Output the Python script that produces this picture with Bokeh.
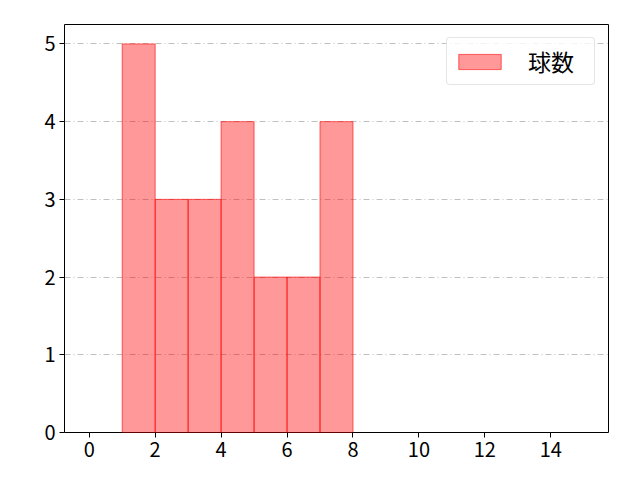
from bokeh.plotting import figure
from bokeh.models import Range1d, FixedTicker, Legend, LegendItem
from bokeh.embed import file_html
from bokeh.resources import INLINE

# histogram bins and counts
bin_left = [1, 2, 3, 4, 5, 6, 7]
bin_right = [2, 3, 4, 5, 6, 7, 8]
counts = [5, 3, 3, 4, 2, 2, 4]
x_ticks = [0, 2, 4, 6, 8, 10, 12, 14]
y_ticks = [0, 1, 2, 3, 4, 5]
label = "球数"

FONT = "Noto Sans CJK JP"

p = figure(width=632, height=472, output_backend="svg", toolbar_location=None,
           x_range=Range1d(-0.75, 15.75), y_range=Range1d(0, 5.25),
           min_border_left=64, min_border_top=24, min_border_right=24, min_border_bottom=40)

r = p.quad(left=bin_left, right=bin_right, top=counts, bottom=0,
           fill_color="#ff0000", fill_alpha=0.4, line_color="#ff0000", line_alpha=0.6, line_width=1)

p.xgrid.grid_line_color = None
p.ygrid.grid_line_color = "#b0b0b0"
p.ygrid.grid_line_dash = "6 3 1 3"
p.ygrid.grid_line_width = 0.8

p.outline_line_color = "black"
p.outline_line_alpha = 1
p.outline_line_width = 1

p.xaxis.ticker = FixedTicker(ticks=x_ticks)
p.yaxis.ticker = FixedTicker(ticks=y_ticks)
for ax in (p.xaxis[0], p.yaxis[0]):
    ax.axis_line_color = None
    ax.minor_tick_line_color = None
    ax.major_tick_in = 0
    ax.major_tick_out = 5
    ax.major_tick_line_color = "black"
    ax.major_label_text_font = FONT
    ax.major_label_text_font_size = "20px"
    ax.major_label_text_color = "black"
    ax.major_label_standoff = 4

legend = Legend(items=[LegendItem(label=label, renderers=[r])], location="top_right")
legend.label_text_font = FONT
legend.label_text_font_size = "23px"
legend.label_text_color = "black"
legend.glyph_width = 53
legend.glyph_height = 19
legend.label_standoff = 22
legend.label_width = 60
legend.padding = 6
legend.margin = 13
legend.border_line_color = "#cccccc"
legend.border_radius = 4
legend.background_fill_alpha = 0.8
p.add_layout(legend)

open("out.html", "w").write(file_html(p, INLINE))
